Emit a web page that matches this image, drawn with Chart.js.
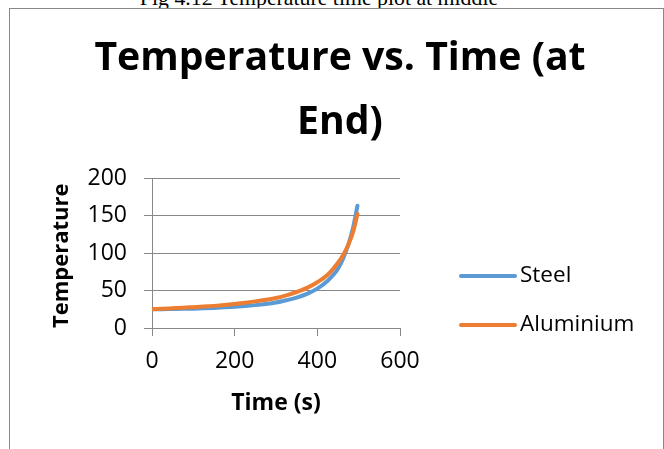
<!DOCTYPE html>
<html>
<head>
<meta charset="utf-8">
<script src="https://cdn.jsdelivr.net/npm/chart.js@4/dist/chart.umd.min.js"></script>
<style>
  html, body { margin: 0; padding: 0; background: #fff; overflow: hidden; }
  body { width: 664px; height: 449px; position: relative; }
  #caption {
    position: absolute; left: 0; width: 638px; top: -13px;
    text-align: center; white-space: nowrap;
    font: 21.8px/22px "Liberation Serif", serif; color: #000;
  }
  #box {
    position: absolute; left: 9px; top: 8px; width: 653px; height: 445px;
    border: 1px solid #888; border-bottom: none; background: #fff;
  }
  #chart { display: block; }
</style>
</head>
<body>
<div id="caption">Fig 4.12 Temperature time plot at middle</div>
<div id="box"><canvas id="chart" width="653" height="440"></canvas></div>
<script>
/*
 DATA
*/
const times = [0, 25, 50, 75, 100, 125, 150, 175, 200, 225, 250, 275, 300, 325, 350, 375, 400, 425, 450, 462, 475, 487, 497];
const steel = [25, 25.1, 25.3, 25.5, 25.8, 26.2, 26.8, 27.5, 28.4, 29.3, 30.5, 32, 34, 37, 40.5, 45.5, 52.5, 63, 79, 92, 111, 135, 163];
const aluminium = [25, 25.6, 26.3, 27, 27.8, 28.6, 29.5, 30.6, 32, 33.6, 35.5, 37.6, 40, 43.5, 48, 53.5, 61, 71, 87, 97, 111, 129, 152];
const seriesNames = ["Steel", "Aluminium"];
const titleLines = ["Temperature vs. Time (at", "End)"];
const xTicks = [0, 200, 400, 600];
const yTicks = [0, 50, 100, 150, 200];

const toPoints = values => times.map((t, i) => ({ x: t, y: values[i] }));

Chart.defaults.font.family = "'Open Sans'";
Chart.defaults.color = "#000";

/*
 LEGEND (line + label, right of plot)
*/
const sideLegend = {
  id: "sideLegend",
  afterDraw(chart) {
    const { ctx, chartArea } = chart;
    ctx.save();
    chart.data.datasets.forEach((ds, i) => {
      const x = chartArea.right + 61;
      const y = chartArea.top + 98 + i * 49;
      ctx.strokeStyle = ds.borderColor;
      ctx.lineWidth = 4;
      ctx.lineCap = "round";
      ctx.beginPath();
      ctx.moveTo(x, y);
      ctx.lineTo(x + 54, y);
      ctx.stroke();
      ctx.fillStyle = "#000";
      ctx.font = "22.5px 'Open Sans'";
      ctx.textBaseline = "middle";
      ctx.textAlign = "left";
      ctx.fillText(ds.label, x + 59, y);
    });
    ctx.restore();
  }
};

const ctx = document.getElementById("chart").getContext("2d");

new Chart(ctx, {
  type: "scatter",
  data: {
    datasets: [
      {
        label: seriesNames[0],
        data: toPoints(steel),
        borderColor: "#5B9BD5",
        backgroundColor: "#5B9BD5",
        order: 2
      },
      {
        label: seriesNames[1],
        data: toPoints(aluminium),
        borderColor: "#ED7D31",
        backgroundColor: "#ED7D31",
        order: 1
      }
    ]
  },
  options: {
    responsive: false,
    animation: false,
    showLine: true,
    elements: {
      point: { radius: 0, hoverRadius: 0 },
      line: { borderWidth: 4, cubicInterpolationMode: "monotone", borderCapStyle: "round" }
    },
    layout: { padding: { left: 7, top: 0, right: 0, bottom: 21 } },
    plugins: {
      legend: { display: false },
      tooltip: { enabled: false },
      title: {
        display: true,
        text: titleLines,
        color: "#000",
        font: { size: 39.2, weight: "bold", lineHeight: "64px" },
        padding: { top: 18, bottom: 23 }
      }
    },
    scales: {
      x: {
        type: "linear",
        min: 0,
        max: 600,
        afterBuildTicks: scale => { scale.ticks = xTicks.map(v => ({ value: v })); },
        afterFit: scale => { scale.height = 100; },
        ticks: { font: { size: 23 }, padding: 12, maxRotation: 0 },
        grid: { drawOnChartArea: false, drawTicks: true, tickLength: 8, color: "#888" },
        border: { color: "#888" },
        title: {
          display: true,
          text: "Time (s)",
          font: { size: 23, weight: "bold" },
          padding: { top: 0, bottom: 11 }
        }
      },
      y: {
        type: "linear",
        min: 0,
        max: 200,
        afterBuildTicks: scale => { scale.ticks = yTicks.map(v => ({ value: v })); },
        afterFit: scale => { scale.width = 135; },
        ticks: { font: { size: 23 }, padding: 17 },
        grid: { color: "#888", tickLength: 8 },
        border: { color: "#888" },
        title: {
          display: true,
          text: "Temperature",
          align: "start",
          font: { size: 22, weight: "bold" },
          padding: { top: 32, bottom: 0 }
        }
      },
      // empty right-hand axis that only reserves room for the legend
      legendSpace: {
        type: "linear",
        position: "right",
        min: 0,
        max: 1,
        afterFit: scale => { scale.width = 263; },
        ticks: { display: false },
        grid: { display: false },
        border: { display: false }
      }
    }
  },
  plugins: [sideLegend]
});
</script>
</body>
</html>
